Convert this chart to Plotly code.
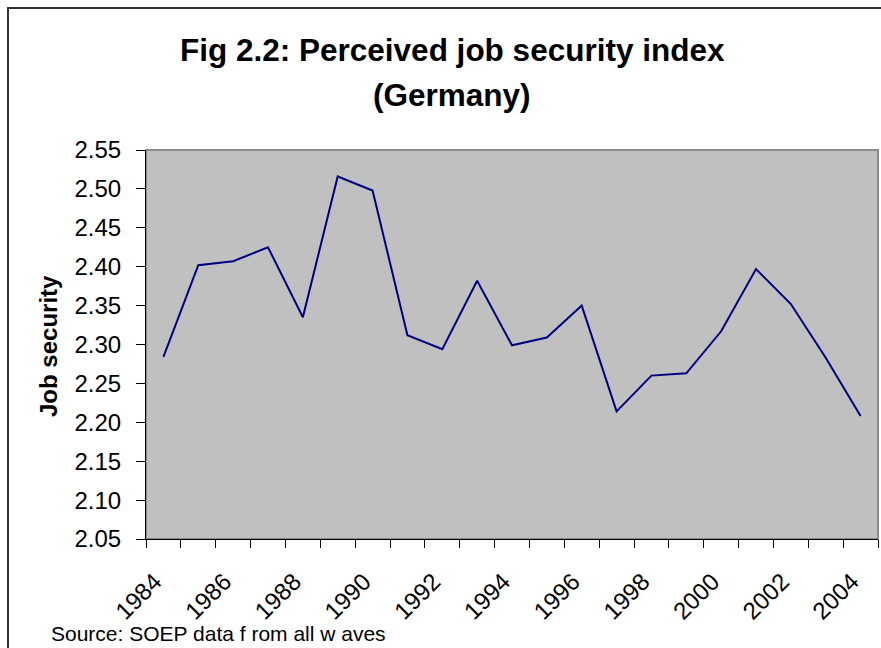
import plotly.graph_objects as go

years = list(range(1984, 2005))
job_security = [2.284, 2.402, 2.407, 2.425, 2.335, 2.516, 2.498, 2.312, 2.294, 2.382,
                2.299, 2.309, 2.350, 2.214, 2.260, 2.263, 2.317, 2.397, 2.352, 2.283, 2.208]
tick_years = list(range(1984, 2005, 2))
y_ticks = [2.05, 2.10, 2.15, 2.20, 2.25, 2.30, 2.35, 2.40, 2.45, 2.50, 2.55]

W, H = 881, 648
L, R, T, B = 146, 878, 150, 539
pw, ph = R - L, B - T

def px(x):
    return (x - L) / pw

def py(y):
    return (B - y) / ph

FONT = "Liberation Sans, Arial, sans-serif"
LABEL_SHIFT = 0.25  # labels sit slightly left of the category centre, as in Excel

fig = go.Figure()
fig.add_trace(go.Scatter(x=years, y=job_security, mode="lines",
                         line=dict(color="#000080", width=2), showlegend=False,
                         hoverinfo="x+y"))

fig.update_layout(
    width=W, height=H,
    margin=dict(l=L, r=W - R, t=T, b=H - B, pad=0),
    paper_bgcolor="white", plot_bgcolor="#C0C0C0",
    font=dict(family=FONT, color="black"),
    xaxis=dict(range=[1983.5, 2004.5], tickmode="array",
               tickvals=[y - LABEL_SHIFT for y in tick_years],
               ticktext=[str(y) for y in tick_years], tickangle=-45,
               ticks="outside", ticklen=0, showgrid=False, zeroline=False,
               showline=True, linecolor="black", linewidth=1,
               tickfont=dict(size=24, family=FONT), ticklabelstandoff=18,
               minor=dict(ticks="outside", ticklen=8, tickcolor="black",
                          tick0=1983.5, dtick=1, showgrid=False)),
    yaxis=dict(range=[2.05, 2.55], tickmode="array", tickvals=y_ticks,
               tickformat=".2f", ticks="outside", ticklen=9, tickcolor="black",
               showgrid=False, zeroline=False, showline=True, linecolor="black",
               linewidth=1, tickfont=dict(size=24, family=FONT),
               ticklabelstandoff=10),
)

# plot area border (gray) and outer chart border
fig.add_shape(type="rect", xref="paper", yref="paper", x0=0, x1=1, y0=0, y1=1,
              line=dict(color="#8a8a8a", width=2), layer="below")
fig.add_shape(type="path", xref="paper", yref="paper",
              path=f"M {px(8)} {py(700)} L {px(8)} {py(8)} L {px(950)} {py(8)}",
              line=dict(color="#333333", width=2))

fig.add_annotation(text="<b>Fig 2.2: Perceived job security index</b>",
                   xref="paper", yref="paper", x=px(452), y=py(50),
                   xanchor="center", yanchor="middle", showarrow=False,
                   font=dict(size=31.5, family=FONT))
fig.add_annotation(text="<b>(Germany)</b>",
                   xref="paper", yref="paper", x=px(452), y=py(95),
                   xanchor="center", yanchor="middle", showarrow=False,
                   font=dict(size=31.5, family=FONT))
fig.add_annotation(text="<b>Job security</b>", textangle=-90,
                   xref="paper", yref="paper", x=px(48), y=py(346),
                   xanchor="center", yanchor="middle", showarrow=False,
                   font=dict(size=24, family=FONT))
fig.add_annotation(text="Source: SOEP data f rom all w aves",
                   xref="paper", yref="paper", x=px(49), y=py(633),
                   xanchor="left", yanchor="middle", showarrow=False,
                   font=dict(size=21, family=FONT))

fig.write_html("out.html", config={"displayModeBar": False},
               post_script="document.body.style.margin='0';document.body.style.overflow='hidden';")
